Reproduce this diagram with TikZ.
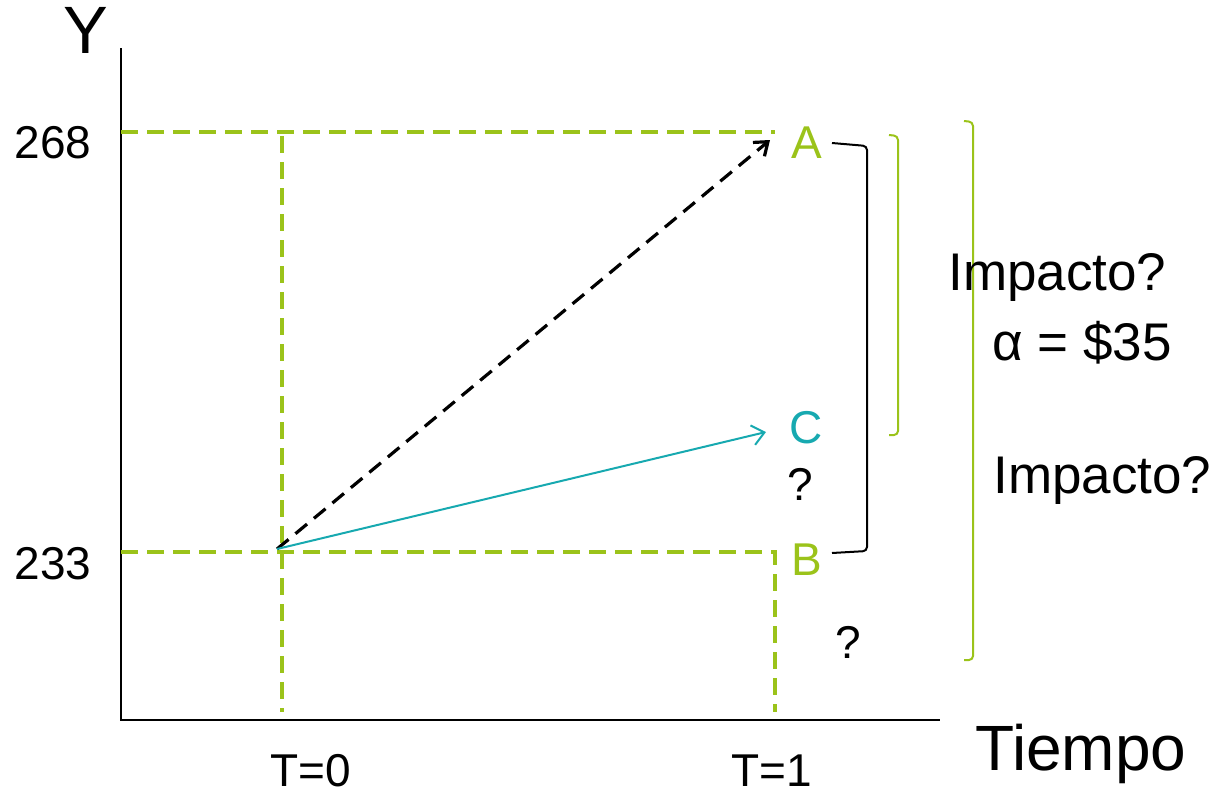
\documentclass[tikz,border=0pt]{standalone}
\usepackage{fontspec}
\setmainfont{Liberation Sans}
\usetikzlibrary{arrows.meta}
\definecolor{LimeGuide}{HTML}{9BC31A}
\definecolor{TealPath}{HTML}{17A9B0}

\tikzset{
  guide/.style={LimeGuide, line width=1.75pt, dash pattern=on 8.5pt off 4.5pt},
  axisline/.style={black, line width=1.25pt},
  bracketline/.style={line width=1pt, rounded corners=2pt},
  lbl/.style={anchor=base, inner sep=0pt, font=\fontsize{23}{26}\selectfont},
  big/.style={anchor=base west, inner sep=0pt, font=\fontsize{26.5}{30}\selectfont}
}

\begin{document}
\begin{tikzpicture}[x=0.5pt,y=-0.5pt]
  \useasboundingbox (0,0) rectangle (1222,793);
  % axes
  \coordinate (origin) at (121,720);
  \coordinate (ytop) at (121,48);
  \coordinate (xend) at (940,720);
  \draw[axisline] (ytop) -- (origin) -- (xend);
  \node[lbl, font=\fontsize{33.5}{36}\selectfont] (ylab) at (86,53) {Y};
  \node[anchor=base west, inner sep=0pt, font=\fontsize{32}{36}\selectfont] (xlab) at (975,770) {Tiempo};
  \node[lbl] (v268) at (53,158) {268};
  \node[lbl] (v233) at (53,579) {233};
  \node[lbl] (t0) at (311,786) {T=0};
  \node[lbl] (t1) at (772,786) {T=1};
  % guide lines
  \coordinate (g268) at (121,132);
  \coordinate (g233) at (121,552);
  \coordinate (gA) at (775,132);
  \coordinate (gB) at (775,552);
  \coordinate (t0top) at (282,136);
  \coordinate (t0bot) at (282,712);
  \coordinate (t1bot) at (775,712);
  \draw[guide] (g268) -- (gA);
  \draw[guide] (g233) -- (gB) -- (t1bot);
  \draw[guide] (t0top) -- (t0bot);
  % points
  \node[lbl, LimeGuide] (A) at (807,158) {A};
  \node[lbl, LimeGuide] (B) at (807,575) {B};
  \node[lbl, TealPath] (C) at (806,443) {C};
  \node[lbl] (q1) at (800,500) {?};
  \node[lbl] (q2) at (848,658) {?};
  % paths from T=0
  \coordinate (start) at (277,549);
  \coordinate (aend) at (770,140);
  \coordinate (cend) at (766,432);
  \draw[line width=1.6pt, dash pattern=on 7.5pt off 4.5pt, -{Straight Barb[length=6pt,width=9pt]}] (start) -- (aend);
  \draw[TealPath, line width=1pt, -{Straight Barb[length=6pt,width=10pt]}] (start) -- (cend);
  % brackets
  \draw[bracketline] (832,143) -- (867,146) -- (867,551) -- (832,553);
  \draw[bracketline, LimeGuide] (889,135) -- (898,136) -- (898,435) -- (889,435);
  \draw[bracketline, LimeGuide] (964,121) -- (973,122) -- (973,660) -- (964,660);
  % labels
  \node[big] (imp1) at (948,290) {Impacto?};
  \node[big] (alpha) at (992,360) {α = \$35};
  \node[big] (imp2) at (993,493) {Impacto?};
\end{tikzpicture}
\end{document}
